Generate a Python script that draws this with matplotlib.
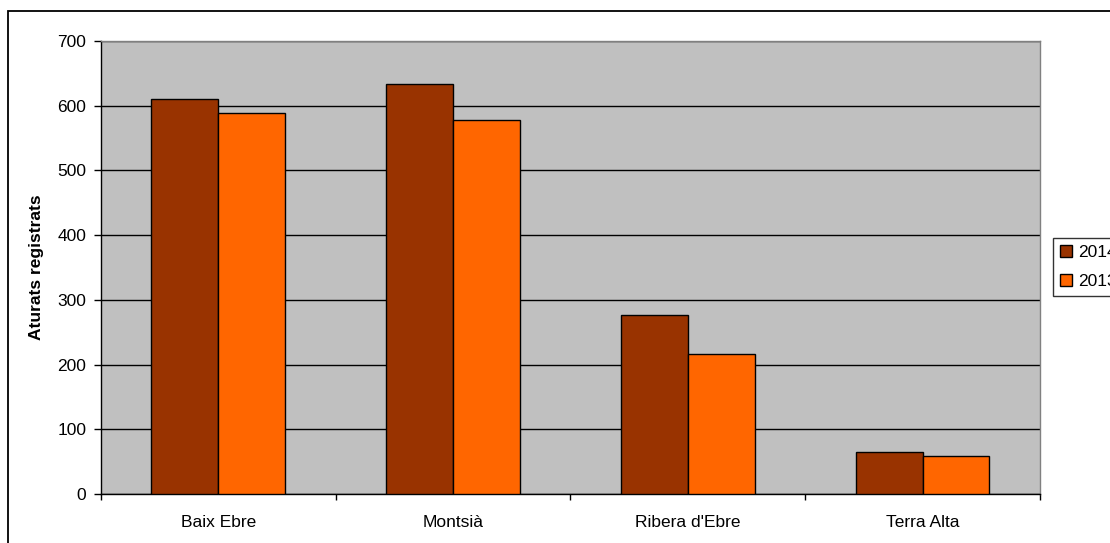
import numpy as np
import matplotlib.pyplot as plt
from matplotlib.patches import Rectangle

plt.rcParams['font.family'] = ['Liberation Sans', 'DejaVu Sans']

comarques = ["Baix Ebre", "Montsià", "Ribera d'Ebre", "Terra Alta"]
aturats_2014 = [610, 634, 277, 65]
aturats_2013 = [589, 578, 217, 59]
series_labels = ["2014", "2013"]
yticks = [0, 100, 200, 300, 400, 500, 600, 700]

fs = 12.5

fig = plt.figure(figsize=(11.1, 5.43), dpi=100)
ax = fig.add_axes([0.0910, 0.0902, 0.8459, 0.8343])
ax.set_facecolor("#c0c0c0")

x = np.arange(len(comarques))
w = 0.285
ax.bar(x - w / 2, aturats_2014, w, color="#993300", edgecolor="black",
       linewidth=1, label=series_labels[0], zorder=3)
ax.bar(x + w / 2, aturats_2013, w, color="#ff6600", edgecolor="black",
       linewidth=1, label=series_labels[1], zorder=3)

ax.set_xlim(-0.5, len(comarques) - 0.5)
ax.set_ylim(0, 700)
ax.set_yticks(yticks)
ax.yaxis.grid(True, color="black", linewidth=1, zorder=1)
ax.set_axisbelow(True)

# category labels centered, ticks at the category boundaries
ax.set_xticks(np.arange(len(comarques) + 1) - 0.5)
ax.set_xticklabels([])
ax.set_xticks(x, minor=True)
ax.set_xticklabels(comarques, minor=True, fontsize=fs)
ax.tick_params(axis="x", which="minor", length=0, pad=15)
ax.tick_params(axis="x", which="major", length=4.5, width=1, direction="out")
ax.tick_params(axis="y", length=5, width=1, direction="out", labelsize=fs, pad=5.5)

for s in ["top", "right"]:
    ax.spines[s].set_color("#808080")
    ax.spines[s].set_linewidth(1)
for s in ["left", "bottom"]:
    ax.spines[s].set_color("black")
    ax.spines[s].set_linewidth(1)

ax.set_ylabel("Aturats registrats", fontsize=fs, fontweight="bold", labelpad=10)

# legend runs off the right edge, as in the original export
leg = fig.legend(loc="upper left", bbox_to_anchor=(0.9486, 0.5620),
                 fontsize=fs, frameon=True, fancybox=False, handlelength=0.7,
                 handleheight=0.7, handletextpad=0.35, borderpad=0.4,
                 labelspacing=0.8, borderaxespad=0)
leg.get_frame().set_edgecolor("black")
leg.get_frame().set_linewidth(1)
for h in leg.legend_handles:
    h.set_linewidth(1)

# chart border, running past the image edges
fig.patches.append(Rectangle((8 / 1110, -0.1), 1.2, 1 - 11 / 543 + 0.1,
                             transform=fig.transFigure, fill=False,
                             edgecolor="black", linewidth=1.3))

fig.savefig("out.png", dpi=100)
